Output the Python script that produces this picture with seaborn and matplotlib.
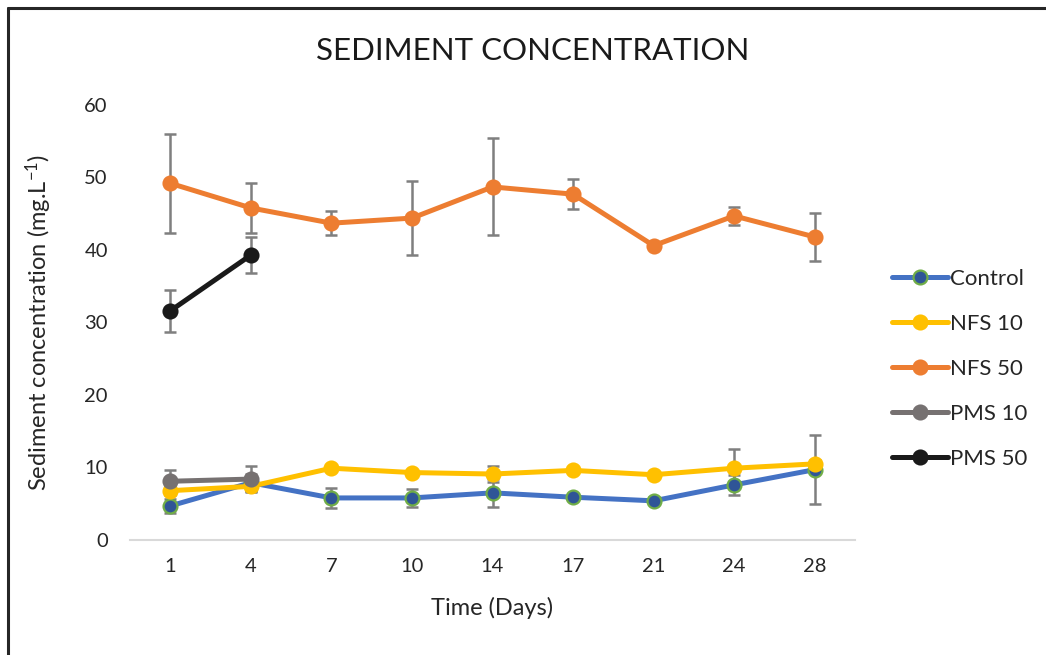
import numpy as np
import pandas as pd
import seaborn as sns
import matplotlib.pyplot as plt
from matplotlib.lines import Line2D

# data
days = ["1", "4", "7", "10", "14", "17", "21", "24", "28"]

control = [4.7, 7.9, 5.8, 5.8, 6.5, 5.9, 5.4, 7.6, 9.7]
control_err = [1.0, 1.2, 1.4, 1.2, 1.9, 0.4, 0.5, 1.4, 4.8]

nfs10 = [6.8, 7.4, 9.9, 9.3, 9.1, 9.6, 9.0, 9.9, 10.5]
nfs10_err = [0.6, 0.6, 0.4, 0.4, 1.1, 0.4, 0.4, 2.7, 0.6]

nfs50 = [49.2, 45.8, 43.7, 44.4, 48.7, 47.7, 40.6, 44.7, 41.8]
nfs50_err = [6.8, 3.5, 1.7, 5.1, 6.7, 2.1, 0.3, 1.2, 3.3]

pms10 = [8.1, 8.4]
pms10_err = [1.6, 1.8]

pms50 = [31.6, 39.3]
pms50_err = [2.9, 2.5]

series = [
    ("Control", control, control_err, "#4472C4", "#2F5597", "#70AD47"),
    ("NFS 10", nfs10, nfs10_err, "#FFC000", "#FFC000", "#FFC000"),
    ("NFS 50", nfs50, nfs50_err, "#ED7D31", "#ED7D31", "#ED7D31"),
    ("PMS 10", pms10, pms10_err, "#767171", "#767171", "#767171"),
    ("PMS 50", pms50, pms50_err, "#1A1A1A", "#1A1A1A", "#1A1A1A"),
]

sns.set_theme(style="white")
plt.rcParams["font.family"] = ["Lato", "DejaVu Sans"]
plt.rcParams["mathtext.default"] = "regular"

fig = plt.figure(figsize=(10.46, 6.55), dpi=100)
ax = fig.add_axes([0.1243, 0.1756, 0.6931, 0.6641])

for i, (name, vals, err, lc, fc, ec) in enumerate(series):
    pos = np.arange(len(vals))
    ax.errorbar(pos, vals, yerr=err, fmt="none", ecolor="#7F7F7F",
                elinewidth=1.8, capsize=4.5, capthick=1.8, zorder=2)
    sns.lineplot(x=pos, y=vals, ax=ax, color=lc, linewidth=3.6,
                 marker="o", markersize=10, markerfacecolor=fc,
                 markeredgecolor=ec, markeredgewidth=1.6,
                 label=name, zorder=3 + i)

ax.set_xlim(-0.5, len(days) - 0.5)
ax.set_ylim(0, 60)
ax.set_xticks(np.arange(len(days)))
ax.set_xticklabels(days)
ax.set_yticks(np.arange(0, 61, 10))
ax.tick_params(axis="both", length=0, labelsize=14.5, colors="#262626")
ax.tick_params(axis="y", pad=16)
ax.tick_params(axis="x", pad=13)

for s in ["top", "right", "left"]:
    ax.spines[s].set_visible(False)
ax.spines["bottom"].set_color("#D9D9D9")
ax.spines["bottom"].set_linewidth(1.5)

ax.set_xlabel("Time (Days)", fontsize=17, color="#262626", labelpad=16)
ax.set_ylabel("Sediment concentration (mg.L$^{-1}$)", fontsize=17,
              color="#262626", labelpad=22)
fig.text(0.509, 0.922, "SEDIMENT CONCENTRATION", fontsize=22.5,
         color="#1A1A1A", ha="center", va="center")

ax.legend(loc="center left", bbox_to_anchor=(0.853, 0.437),
          bbox_transform=fig.transFigure, frameon=False, fontsize=16,
          handlelength=2.5, labelspacing=1.12, handletextpad=0.12,
          borderpad=0, borderaxespad=0)

# frame around the figure (left and top edges visible in the original)
fig.add_artist(Line2D([0.008, 0.008], [0.0, 0.988], color="#262626",
                      linewidth=2.2, transform=fig.transFigure))
fig.add_artist(Line2D([0.008, 1.0], [0.988, 0.988], color="#262626",
                      linewidth=2.2, transform=fig.transFigure))

fig.savefig("out.png", dpi=100, facecolor="white")
